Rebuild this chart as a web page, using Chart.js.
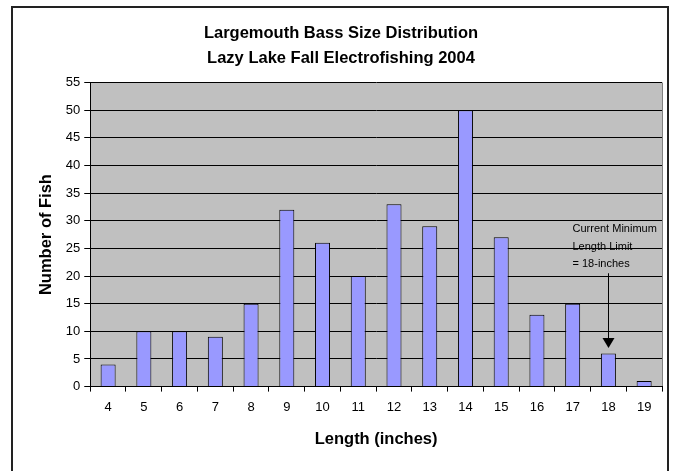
<!DOCTYPE html>
<html>
<head>
<meta charset="utf-8">
<script src="https://cdn.jsdelivr.net/npm/chart.js@4.4.1/dist/chart.umd.min.js"></script>
<style>
  html, body { margin: 0; padding: 0; background: #ffffff; }
  #wrap { position: relative; width: 678px; height: 471px; }
</style>
</head>
<body>
<div id="wrap"><canvas id="chart-size"></canvas></div>
<script>
// DATOS DE LA GRÁFICA
const lengths = ['4', '5', '6', '7', '8', '9', '10', '11', '12', '13', '14', '15', '16', '17', '18', '19'];
const fishCount = [4, 10, 10, 9, 15, 32, 26, 20, 33, 29, 50, 27, 13, 15, 6, 1];
const titleLines = ['Largemouth Bass Size Distribution', 'Lazy Lake Fall Electrofishing 2004'];
const noteLines = ['Current Minimum', 'Length Limit', '= 18-inches'];
const limitLength = '18';

const FONT = '"Liberation Sans", Arial, sans-serif';

// FONDO GRIS DEL ÁREA, MARCO EXTERIOR Y NOTA CON FLECHA
const decorPlugin = {
  id: 'decor',
  beforeDraw(chart) {
    const { ctx, chartArea } = chart;
    ctx.save();
    ctx.fillStyle = '#c0c0c0';
    ctx.fillRect(chartArea.left, chartArea.top, chartArea.right - chartArea.left, chartArea.bottom - chartArea.top);
    ctx.strokeStyle = '#808080';
    ctx.lineWidth = 1;
    ctx.beginPath();
    ctx.moveTo(chartArea.right + 0.5, chartArea.top);
    ctx.lineTo(chartArea.right + 0.5, chartArea.bottom);
    ctx.stroke();
    ctx.restore();
  },
  afterDraw(chart) {
    const { ctx } = chart;
    const xs = chart.scales.x;
    const ys = chart.scales.y;
    ctx.save();
    // marco exterior
    ctx.strokeStyle = '#222222';
    ctx.lineWidth = 2;
    ctx.strokeRect(12, 7, 656, 480);

    // nota
    const idx = lengths.indexOf(limitLength);
    const ax = Math.round(xs.getPixelForValue(idx)) + 0.5;
    const tipY = ys.getPixelForValue(fishCount[idx] + 1);
    const startY = ys.getPixelForValue(20.5);
    ctx.fillStyle = '#000000';
    ctx.font = '11px ' + FONT;
    ctx.textAlign = 'left';
    ctx.textBaseline = 'middle';
    const tx = ax - 36;
    noteLines.forEach((t, i) => {
      ctx.fillText(t, tx, ys.getPixelForValue(28.5) + i * 17.5);
    });
    ctx.strokeStyle = '#000000';
    ctx.lineWidth = 1;
    ctx.beginPath();
    ctx.moveTo(ax, startY);
    ctx.lineTo(ax, tipY - 8);
    ctx.stroke();
    ctx.beginPath();
    ctx.moveTo(ax - 6, tipY - 10);
    ctx.lineTo(ax + 6, tipY - 10);
    ctx.lineTo(ax, tipY);
    ctx.closePath();
    ctx.fill();
    ctx.restore();
  }
};

const chartSize = new Chart(document.getElementById('chart-size'), {
  type: 'bar',
  data: {
    labels: lengths,
    datasets: [{
      label: 'Number of Fish',
      data: fishCount,
      backgroundColor: '#9999ff',
      borderColor: '#000000',
      borderWidth: 1,
      categoryPercentage: 1,
      barPercentage: 0.42
    }]
  },
  options: {
    responsive: true,
    maintainAspectRatio: false,
    animation: false,
    layout: { padding: { left: 20, right: 16, top: 21, bottom: 22 } },
    plugins: {
      legend: { display: false },
      tooltip: { enabled: false },
      title: {
        display: true,
        text: titleLines,
        color: '#000000',
        font: { family: FONT, size: 16.5, weight: 'bold', lineHeight: 1.5 },
        padding: { top: 0, bottom: 12 }
      }
    },
    scales: {
      y: {
        min: 0,
        max: 55,
        ticks: {
          stepSize: 5,
          color: '#000000',
          font: { family: FONT, size: 13 },
          padding: 4
        },
        grid: {
          color: '#000000',
          lineWidth: 1,
          drawTicks: true,
          tickLength: 6
        },
        border: { color: '#000000', width: 1 },
        title: {
          display: true,
          text: 'Number of Fish',
          color: '#000000',
          font: { family: FONT, size: 16.5, weight: 'bold' },
          padding: { top: 17, bottom: 5 }
        }
      },
      x: {
        ticks: {
          color: '#000000',
          font: { family: FONT, size: 13 },
          padding: 8
        },
        grid: {
          offset: true,
          drawOnChartArea: false,
          drawTicks: true,
          tickLength: 5,
          color: '#000000'
        },
        border: { color: '#000000', width: 1 },
        title: {
          display: true,
          text: 'Length (inches)',
          color: '#000000',
          font: { family: FONT, size: 16.5, weight: 'bold' },
          padding: { top: 6, bottom: 0 }
        }
      }
    }
  },
  plugins: [decorPlugin]
});
</script>
</body>
</html>
